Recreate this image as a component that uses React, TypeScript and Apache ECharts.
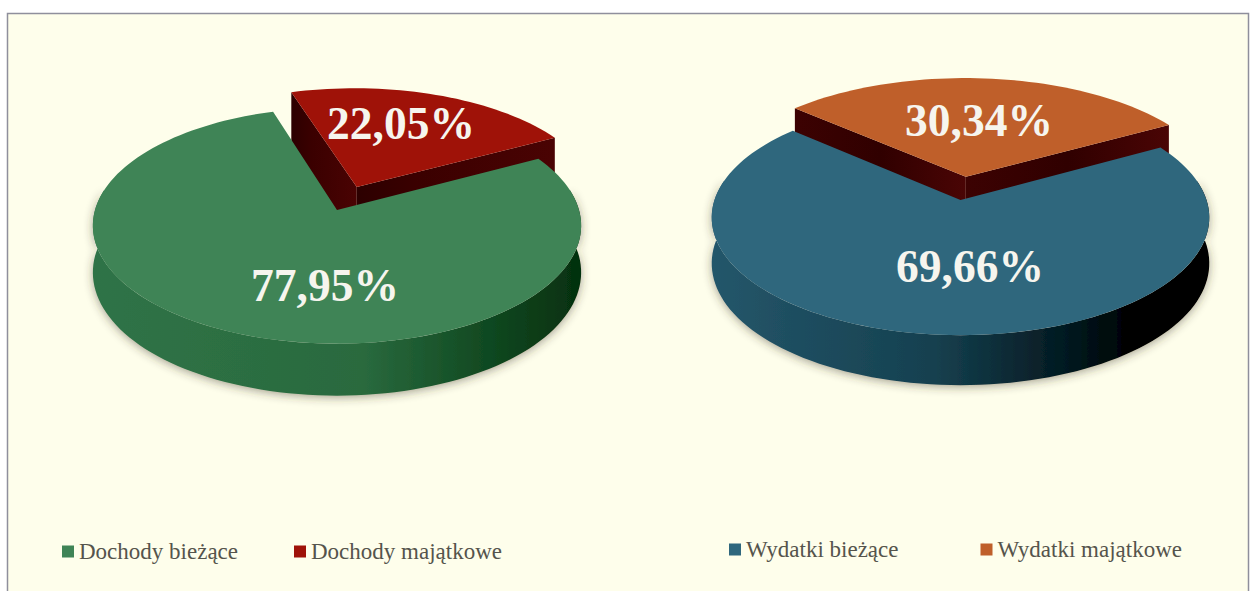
import React, { useEffect, useRef } from "react";
import * as echarts from "echarts";

const incomeCategories = ["Dochody bieżące", "Dochody majątkowe"];
const incomeValues = [77.95, 22.05];
const spendingCategories = ["Wydatki bieżące", "Wydatki majątkowe"];
const spendingValues = [69.66, 30.34];

const incomeColors = { main: "#3f8456", exploded: "#9f1208" };
const spendingColors = { main: "#2f677d", exploded: "#bf5f2a" };

type Pie = {
  X0: number; Y0: number; A: number; B: number; k: number;
  depthFront: number; depthSide: number; startDeg: number; explode: number; sliceScale: number; total: number;
};

const leftPie: Pie = { X0: 337, Y0: 210, A: 242, B: 116, k: 0.132, depthFront: 52, depthSide: 46, startDeg: -17.3, explode: 0.22, sliceScale: 1.015, total: 100 };
const rightPie: Pie = { X0: 960.5, Y0: 200, A: 246, B: 115, k: 0.149, depthFront: 50, depthSide: 45, startDeg: -48.5, explode: 0.21, sliceScale: 1.05, total: 100 };

function project(p: Pie, u: number, v: number): [number, number] {
  const w = 1 - p.k * v;
  return [p.X0 + (p.A * u) / w, p.Y0 + (p.B * v) / w];
}
function disc(deg: number, r = 1): [number, number] {
  const a = (deg * Math.PI) / 180;
  return [r * Math.sin(a), -r * Math.cos(a)];
}
function arcPoints(p: Pie, from: number, to: number, ou = 0, ov = 0, r = 1, drop = false) {
  const n = Math.max(8, Math.ceil(Math.abs(to - from) / 2));
  const out: number[][] = [];
  for (let i = 0; i <= n; i++) {
    const [u, v] = disc(from + ((to - from) * i) / n, r);
    const [x, y] = project(p, u + ou, v + ov);
    out.push([x, y + (drop ? p.depthSide + (p.depthFront - p.depthSide) * Math.max(v, 0) : 0)]);
  }
  return out;
}
const lin = (stops: [number, string][]) =>
  new echarts.graphic.LinearGradient(0, 0, 1, 0, stops.map(([offset, color]) => ({ offset, color })));

const labelStyle = (text: string) => ({
  text,
  fill: "#f6f5ee",
  font: "bold 45.5px 'Liberation Serif'",
  textAlign: "center",
  textVerticalAlign: "middle",
});
const pct = (v: number) => v.toFixed(2).replace(".", ",") + "%";

function mainSlice(p: Pie, exploded: number, top: any, side: any, labelPos: number[]) {
  return (_: any, api: any) => {
    const v = api.value(0);
    const start = p.startDeg + (exploded / p.total) * 360;
    const end = start + (v / p.total) * 360;
    const sFrom = Math.max(start, 80);
    const sTo = Math.min(end, 280);
    const topEdge = arcPoints(p, sFrom, sTo);
    const bottomEdge = arcPoints(p, sTo, sFrom, 0, 0, 1, true);
    const face = [[p.X0, p.Y0], ...arcPoints(p, start, end)];
    return {
      type: "group",
      children: [
        { type: "polygon", shape: { points: [...topEdge, ...bottomEdge] }, style: { fill: side, shadowBlur: 10, shadowColor: "rgba(60,50,40,0.45)", shadowOffsetY: 2 } },
        { type: "polygon", shape: { points: face }, style: { fill: top } },
        { type: "text", x: labelPos[0], y: labelPos[1], style: labelStyle(pct(v)) },
      ],
    };
  };
}

function explodedSlice(p: Pie, top: any, wall: any, labelPos: number[]) {
  return (_: any, api: any) => {
    const v = api.value(0);
    const start = p.startDeg;
    const end = start + (v / p.total) * 360;
    const [ou, ov] = disc((start + end) / 2, p.explode);
    const apex = project(p, ou, ov);
    const [au, av] = disc(start, p.sliceScale);
    const [bu, bv] = disc(end, p.sliceScale);
    const a = project(p, au + ou, av + ov);
    const b = project(p, bu + ou, bv + ov);
    const d = p.depthFront + 8;
    return {
      type: "group",
      children: [
        { type: "polygon", shape: { points: [a, apex, [apex[0], apex[1] + d], [a[0], a[1] + d]] }, style: { fill: wall } },
        { type: "polygon", shape: { points: [apex, b, [b[0], b[1] + d], [apex[0], apex[1] + d]] }, style: { fill: wall } },
        { type: "polygon", shape: { points: [apex, ...arcPoints(p, start, end, ou, ov, p.sliceScale)] }, style: { fill: top } },
        { type: "text", x: labelPos[0], y: labelPos[1], style: labelStyle(pct(v)) },
      ],
    };
  };
}

function custom(name: string, value: number, color: string, renderItem: any) {
  return {
    type: "custom",
    name,
    coordinateSystem: "none",
    clip: false,
    silent: true,
    itemStyle: { color },
    data: [[value]],
    renderItem,
  };
}

const legendText = { fontFamily: "'Liberation Serif'", fontSize: 23, color: "#55544c" };

export default function App() {
  const ref = useRef<HTMLDivElement>(null);
  useEffect(() => {
    const chart = echarts.init(ref.current!, null, { renderer: "svg" });
    const greenSide = lin([[0, "#2f7347"], [0.55, "#2a6a3e"], [0.8, "#114a22"], [1, "#05300f"]]);
    const blueSide = lin([[0, "#24566a"], [0.45, "#15404f"], [0.72, "#03181f"], [0.85, "#000000"], [1, "#000000"]]);
    const redWall = lin([[0, "#2c0000"], [0.3, "#3a0000"], [1, "#4a0303"]]);
    const orangeWall = lin([[0, "#3c0202"], [0.5, "#300000"], [1, "#4a0505"]]);
    chart.setOption({
      animation: false,
      backgroundColor: "#ffffff",
      graphic: [
        { type: "rect", z: -10, shape: { x: 7.5, y: 13.5, width: 1241, height: 590 }, style: { fill: "#fefeeb", stroke: "#8f8f9c", lineWidth: 1.5 } },
      ],
      legend: [
        { left: 62, top: 540, data: incomeCategories, icon: "rect", itemWidth: 12, itemHeight: 12, itemGap: 56, textStyle: legendText, padding: 0 },
        { left: 729, top: 538, data: spendingCategories, icon: "rect", itemWidth: 12, itemHeight: 12, itemGap: 82, textStyle: legendText, padding: 0 },
      ],
      series: [
        custom(incomeCategories[1], incomeValues[1], incomeColors.exploded, explodedSlice(leftPie, incomeColors.exploded, redWall, [401, 123])),
        custom(incomeCategories[0], incomeValues[0], incomeColors.main, mainSlice(leftPie, incomeValues[1], incomeColors.main, greenSide, [325, 285])),
        custom(spendingCategories[1], spendingValues[1], spendingColors.exploded, explodedSlice(rightPie, spendingColors.exploded, orangeWall, [979, 120])),
        custom(spendingCategories[0], spendingValues[0], spendingColors.main, mainSlice(rightPie, spendingValues[1], spendingColors.main, blueSide, [970, 266])),
      ],
    });
    return () => chart.dispose();
  }, []);
  return <div ref={ref} style={{ position: "fixed", left: 0, top: 0, width: 1250, height: 591 }} />;
}
